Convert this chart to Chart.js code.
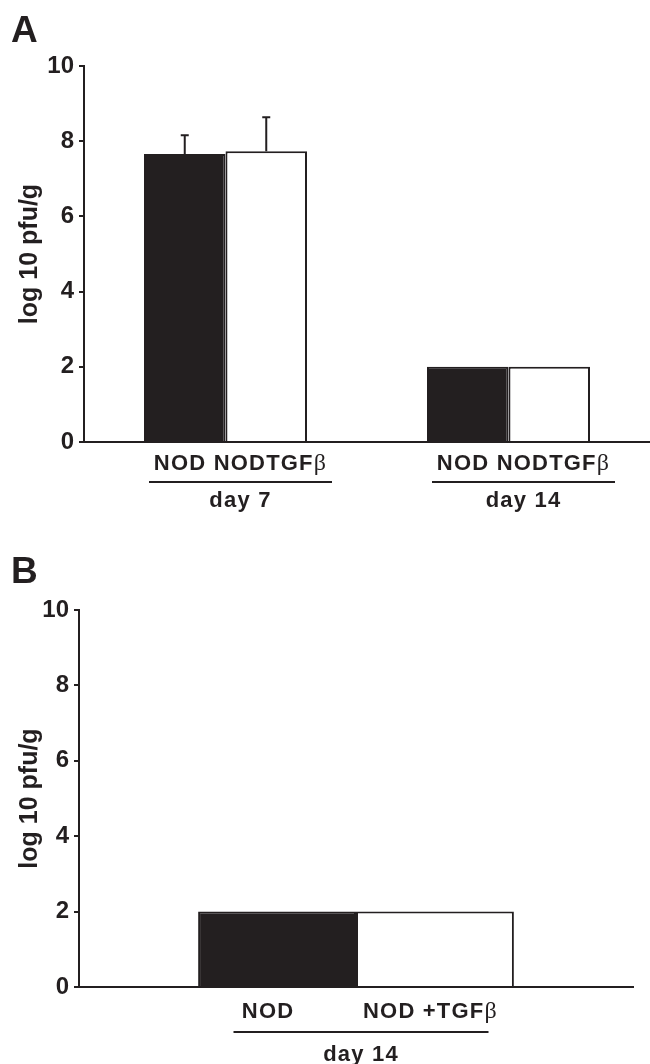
<!DOCTYPE html>
<html>
<head>
<meta charset="utf-8">
<script src="https://cdn.jsdelivr.net/npm/chart.js@4.4.1/dist/chart.umd.min.js"></script>
<style>
  body { margin: 0; background: #fff; }
  canvas { display: block; }
</style>
</head>
<body>
<canvas id="chartA" width="650" height="540"></canvas>
<canvas id="chartB" width="650" height="524"></canvas>
<script>
// panel A: virus titre at day 7 and day 14
const daysA = ['day 7', 'day 14'];
const strainsA = ['NOD', 'NODTGFβ'];
const nodA = [7.66, 2.0];
const nodErrA = [0.5, 0];
const tgfA = [7.73, 2.0];
const tgfErrA = [0.91, 0];

// panel B: day 14 only
const daysB = ['day 14'];
const strainsB = ['NOD', 'NOD +TGFβ'];
const nodB = [2.0];
const tgfB = [2.0];

const INK = '#231f20';
const SANS = '"Liberation Sans", Arial, Helvetica, sans-serif';
const SERIF = '"Liberation Serif", "Times New Roman", serif';

// β is set in a plain serif face, like the Symbol font in the original figure
function drawMixed(ctx, text, cx, y, size) {
  const parts = text.split(/(β)/).filter(s => s);
  const fontFor = s => s === 'β' ? `${size + 2}px ${SERIF}` : `bold ${size}px ${SANS}`;
  let total = 0;
  parts.forEach(p => { ctx.font = fontFor(p); total += ctx.measureText(p).width; });
  let x = cx - total / 2;
  parts.forEach(p => {
    ctx.font = fontFor(p);
    ctx.fillText(p, x, y);
    x += ctx.measureText(p).width;
  });
}

const errorBarPlugin = {
  id: 'errorBars',
  afterDatasetsDraw(chart) {
    const ctx = chart.ctx;
    const y = chart.scales.y;
    ctx.save();
    ctx.strokeStyle = INK;
    ctx.lineWidth = 2;
    chart.data.datasets.forEach((ds, di) => {
      if (!ds.errors) return;
      chart.getDatasetMeta(di).data.forEach((bar, i) => {
        const e = ds.errors[i];
        if (!e) return;
        const top = y.getPixelForValue(ds.data[i] + e);
        ctx.beginPath();
        ctx.moveTo(bar.x, bar.y);
        ctx.lineTo(bar.x, top);
        ctx.moveTo(bar.x - 4, top);
        ctx.lineTo(bar.x + 4, top);
        ctx.stroke();
      });
    });
    ctx.restore();
  }
};

const labelPlugin = {
  id: 'groupLabels',
  afterDraw(chart, args, o) {
    const ctx = chart.ctx;
    const x = chart.scales.x;
    ctx.save();
    ctx.fillStyle = INK;
    ctx.strokeStyle = INK;
    ctx.textBaseline = 'alphabetic';
    ctx.font = `bold 37px ${SANS}`;
    ctx.fillText(o.panel, 11, o.panelY);

    ctx.letterSpacing = '1.2px';
    o.days.forEach((day, i) => {
      const cx = x.getPixelForValue(i) + o.shift;
      if (o.joined) {
        drawMixed(ctx, o.strains.join(' '), cx, o.labelY, 22);
      } else {
        o.strains.forEach((s, si) => {
          const bar = chart.getDatasetMeta(si).data[i];
          drawMixed(ctx, s, bar.x + o.barShift[si], o.labelY, 22);
        });
      }
      ctx.lineWidth = 2;
      ctx.beginPath();
      ctx.moveTo(cx - o.halfLine, o.lineY);
      ctx.lineTo(cx + o.halfLine, o.lineY);
      ctx.stroke();
      drawMixed(ctx, day, cx, o.dayY, 22);
    });
    ctx.restore();
  }
};

function makeChart(id, days, strains, values, errors, box, labels) {
  return new Chart(document.getElementById(id), {
    type: 'bar',
    data: {
      labels: days,
      datasets: [
        { label: strains[0], data: values[0], errors: errors[0],
          backgroundColor: INK, borderColor: INK, borderWidth: 2 },
        { label: strains[1], data: values[1], errors: errors[1],
          backgroundColor: '#ffffff', borderColor: INK, borderWidth: 2 }
      ]
    },
    options: {
      responsive: false,
      animation: false,
      events: [],
      categoryPercentage: box.groupWidth,
      barPercentage: 1,
      layout: { padding: { top: box.top, right: box.right, left: 0, bottom: 0 } },
      plugins: {
        legend: { display: false },
        tooltip: { enabled: false },
        groupLabels: labels
      },
      scales: {
        x: {
          grid: { display: false },
          ticks: { display: false },
          border: { display: true, color: INK, width: 2 },
          afterFit: s => { s.height = box.xHeight; }
        },
        y: {
          min: 0,
          max: 10,
          ticks: {
            stepSize: 2,
            color: INK,
            padding: 5,
            font: { family: SANS, size: 24, weight: 'bold' }
          },
          grid: { drawOnChartArea: false, drawTicks: true, tickLength: 5, color: INK, lineWidth: 2 },
          border: { display: true, color: INK, width: 2 },
          title: {
            display: true,
            text: 'log 10 pfu/g',
            color: INK,
            font: { family: SANS, size: 25, weight: 'bold' },
            padding: { top: 15, bottom: 0 }
          },
          afterFit: s => { s.width = box.yWidth; }
        }
      }
    },
    plugins: [errorBarPlugin, labelPlugin]
  });
}

makeChart('chartA', daysA, strainsA, [nodA, tgfA], [nodErrA, tgfErrA],
  { top: 66, right: 0, yWidth: 84, xHeight: 98, groupWidth: 0.576 },
  { panel: 'A', panelY: 42, strains: strainsA, days: daysA, joined: true,
    labelY: 470, lineY: 482, dayY: 507, shift: 15, halfLine: 91.5 });

makeChart('chartB', daysB, strainsB, [nodB, tgfB], [null, null],
  { top: 70, right: 17, yWidth: 79, xHeight: 77, groupWidth: 0.57 },
  { panel: 'B', panelY: 43, strains: strainsB, days: daysB, joined: false,
    labelY: 478, lineY: 492, dayY: 521, shift: 5, halfLine: 127.5, barShift: [-9, -4.5] });
</script>
</body>
</html>
